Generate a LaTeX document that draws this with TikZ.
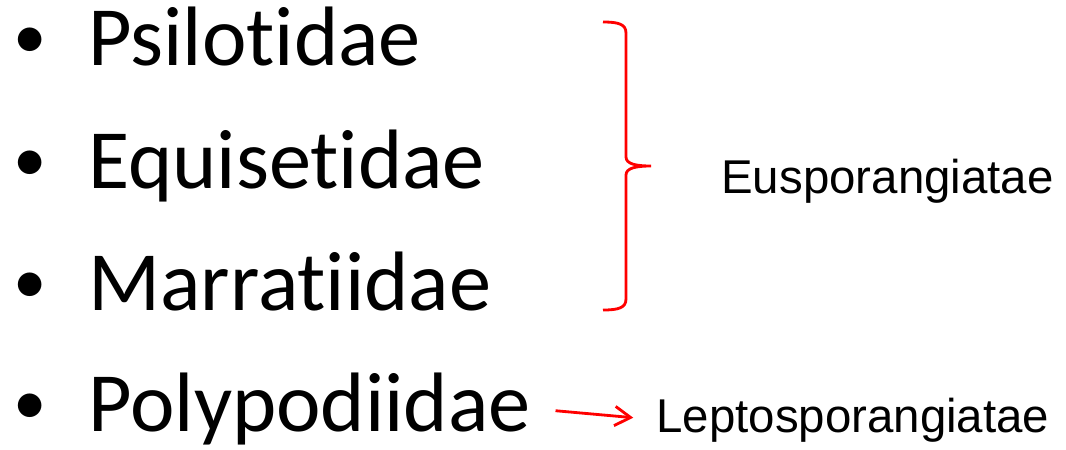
\documentclass[tikz,border=0pt]{standalone}
\usepackage{fontspec}
\setmainfont{Carlito}[Ligatures=NoCommon]
\newfontfamily\arialfont{Liberation Sans}
\usetikzlibrary{arrows.meta}

\begin{document}
\begin{tikzpicture}[x=0.02cm,y=-0.02cm,
    item/.style={anchor=base west,inner sep=0pt,font=\fontsize{48}{56}\selectfont},
    dot/.style={anchor=base,inner sep=0pt,font=\fontsize{38}{56}\selectfont},
    group/.style={anchor=base west,inner sep=0pt,font=\arialfont\fontsize{27}{32}\selectfont}]
  \useasboundingbox (0,0) rectangle (1066,450);
  % list of subclasses
  \node[dot] (d1) at (30,58) {•};
  \node[item] (psi) at (88,65) {Psilotidae};
  \node[dot] (d2) at (30,181) {•};
  \node[item] (equ) at (88,188) {Equisetidae};
  \node[dot] (d3) at (30,303) {•};
  \node[item] (mar) at (88,310) {Marratiidae};
  \node[dot] (d4) at (30,424) {•};
  \node[item] (poly) at (88,431) {Polypodiidae};
  % groups
  \node[group] (eus) at (721,193) {Eusporangiatae};
  \node[group] (lepto) at (656,432) {Leptosporangiatae};
  % brace
  \coordinate (T) at (603,22);
  \coordinate (B) at (603,310);
  \coordinate (M) at (651,166);
  \draw[red,line width=1.6pt] (T) .. controls (618,22) and (626,24) .. (626,33)
    -- (626,157) .. controls (626,164) and (636,166) .. (M)
    .. controls (636,166) and (626,168) .. (626,175)
    -- (626,299) .. controls (626,308) and (618,310) .. (B);
  % arrow
  \draw[red,line width=1.6pt,-{Straight Barb[length=9pt,width=11pt]},
    shorten <=14pt,shorten >=13pt] (poly.east) -- (lepto.west);
\end{tikzpicture}
\end{document}
